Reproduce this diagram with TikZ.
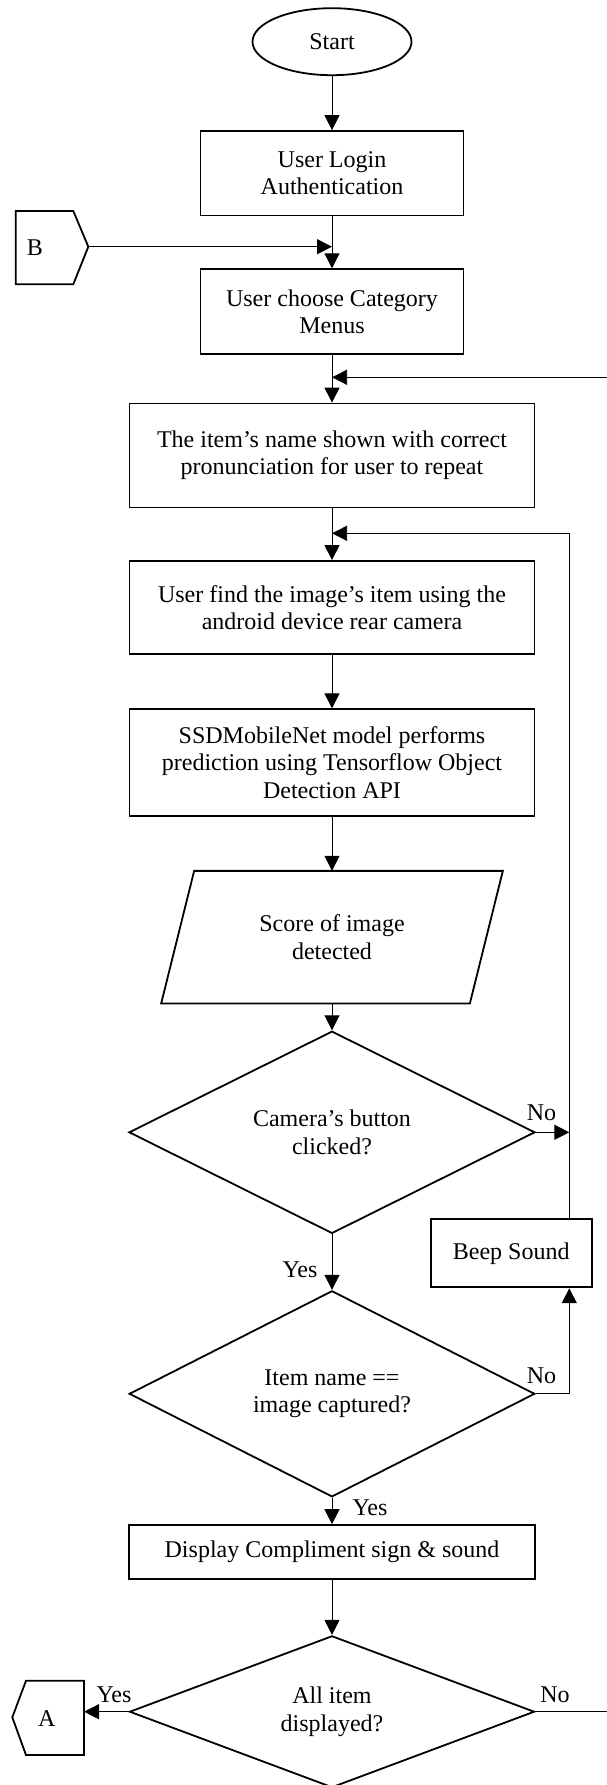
\documentclass[tikz,border=0pt]{standalone}
\usepackage{fontspec}
\setmainfont{Liberation Serif}
\usetikzlibrary{shapes.geometric,arrows.meta}
\begin{document}
\begin{tikzpicture}[x=1pt,y=-1pt,
  font=\fontsize{24}{27.3}\selectfont,
  shapeline/.style={draw,line width=1.8pt},
  procbox/.style={shapeline,rectangle,align=center,inner sep=0pt},
  decision/.style={shapeline,diamond,align=center,inner sep=0pt},
  conn/.style={line width=1pt},
  thinconn/.style={line width=0.7pt},
  arr/.style={conn,-{Triangle[length=15pt,width=15pt]}},
  thinarr/.style={thinconn,-{Triangle[length=15pt,width=15pt]}},
  lbl/.style={inner sep=0pt}
]
\useasboundingbox (0,0) rectangle (607,1785);

% main column
\node[shapeline,ellipse,minimum width=159pt,minimum height=67pt,inner sep=0pt] (start) at (332,41.7) {Start};
\node[procbox,minimum width=263pt,minimum height=84.5pt] (login) at (332,173.3) {User Login\\Authentication};
\node[procbox,minimum width=263pt,minimum height=85pt] (choose) at (332,311.7) {User choose Category\\Menus};
\node[procbox,minimum width=405pt,minimum height=104pt] (item) at (332,455.5) {The item’s name shown with correct\\pronunciation for user to repeat};
\node[procbox,minimum width=405pt,minimum height=93pt] (find) at (332,607.5) {User find the image’s item using the\\android device rear camera};
\node[procbox,minimum width=405pt,minimum height=106.5pt] (ssd) at (332,762.5) {SSDMobileNet model performs\\prediction using Tensorflow Object\\Detection API};
\node[minimum width=308.3pt,minimum height=132.3pt,inner sep=0pt,align=center] (score) at (332,937.2) {Score of image\\detected};
\draw[shapeline] ([xshift=16.5pt]score.north west) -- ([xshift=16.5pt]score.north east) -- ([xshift=-16.5pt]score.south east) -- ([xshift=-16.5pt]score.south west) -- cycle;
\node[decision,minimum width=406pt,minimum height=141.6pt] (d1) at (332,1132.3) {Camera’s button\\clicked?};
\node[decision,minimum width=405.6pt,minimum height=152.3pt] (d2) at (332,1393.8) {Item name ==\\image captured?};
\node[procbox,minimum width=161pt,minimum height=68pt] (beep) at (511.2,1253.3) {Beep Sound};
\node[procbox,minimum width=406.5pt,minimum height=54.3pt] (disp) at (332,1552.2) {Display Compliment sign \& sound};
\node[decision,minimum width=405pt,minimum height=150pt] (d3) at (332,1711.7) {All item\\displayed?};

% off-page connectors
\node[inner sep=0pt] (B) at (35,248) {B};
\draw[shapeline] (15.7,211) -- (73.3,211) -- (88.3,246.7) -- (73.3,284.3) -- (15.7,284.3) -- cycle;
\coordinate (Bpt) at (88.3,246.7);
\node[inner sep=0pt] (A) at (46.7,1719) {A};
\draw[shapeline] (84,1680.7) -- (26,1680.7) -- (12.3,1717.3) -- (26,1755) -- (84,1755) -- cycle;
\coordinate (Aright) at (84,1711.7);

% helper coordinates
\coordinate (jB) at (332,246.7);
\coordinate (edgeTop) at (607,377.3);
\coordinate (jTop) at (332,377.3);
\coordinate (loopTop) at (569.3,533.3);
\coordinate (jLoop) at (332,533.3);
\coordinate (edgeBot) at (607,1711.7);

% connectors
\draw[arr] (start) -- (login);
\draw[arr] (login) -- (choose);
\draw[arr] (Bpt) -- (jB);
\draw[arr] (choose) -- (item);
\draw[thinarr] (edgeTop) -- (jTop);
\draw[arr] (item) -- (find);
\draw[thinarr] (beep.north -| loopTop) -- (loopTop) -- (jLoop);
\draw[arr] (find) -- (ssd);
\draw[arr] (ssd) -- (score);
\draw[arr] (score) -- (d1);
\draw[arr] (d1.east) -- (d1.east -| loopTop);
\draw[arr] (d1) -- (d2);
\draw[thinarr] (d2.east) -| (beep.south -| loopTop);
\draw[arr] (d2) -- (disp);
\draw[arr] (disp) -- (d3);
\draw[arr] (d3.west) -- (Aright);
\draw[conn] (d3.east) -- (edgeBot);

% labels
\node[lbl] at (541.5,1113) {No};
\node[lbl] at (300,1270) {Yes};
\node[lbl] at (541.5,1376) {No};
\node[lbl] at (370,1508) {Yes};
\node[lbl] at (114,1695) {Yes};
\node[lbl] at (555,1695) {No};
\end{tikzpicture}
\end{document}
